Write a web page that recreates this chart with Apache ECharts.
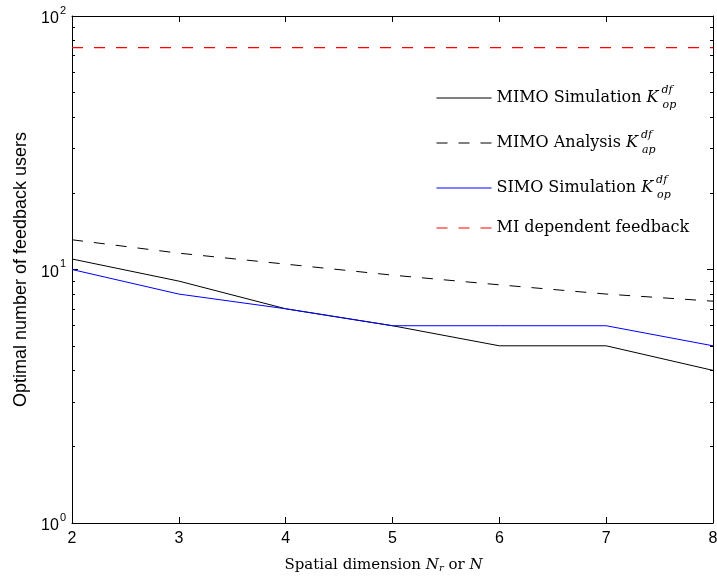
<!DOCTYPE html>
<html>
<head>
<meta charset="utf-8">
<script src="https://cdn.jsdelivr.net/npm/echarts@6/dist/echarts.min.js"></script>
<style>html,body{margin:0;padding:0;background:#fff}#c{width:717px;height:577px}</style>
</head>
<body>
<div id="c"></div>
<script>
const xValues = [2, 3, 4, 5, 6, 7, 8];
const mimoSim = [11, 9, 7, 6, 5, 5, 4];
const mimoAna = [13.1, 11.6, 10.5, 9.5, 8.7, 8.0, 7.5];
const simoSim = [10, 8, 7, 6, 6, 6, 5];
const miFeedback = [75, 75, 75, 75, 75, 75, 75];
const yMajor = [1, 10, 100];
const yMinor = [2, 3, 4, 5, 6, 7, 8, 9, 20, 30, 40, 50, 60, 70, 80, 90];
const seriesNames = ['MIMO Simulation', 'MIMO Analysis', 'SIMO Simulation', 'MI dependent feedback'];

const pairs = arr => xValues.map((x, i) => [x, arr[i]]);
const sansFont = 'Liberation Sans, Arial, sans-serif';
const serifFont = 'DejaVu Serif';

const chart = echarts.init(document.getElementById('c'), null, {renderer: 'canvas'});
const grid = {left: 72, right: 4, top: 16, bottom: 54, containLabel: false, outerBoundsMode: 'none'};

function yAxisDef(pos, ticks, len, withLabel, withLine) {
  return {
    type: 'log', logBase: 10, min: 1, max: 100, position: pos,
    axisLine: {show: withLine, lineStyle: {color: '#000', width: 1}},
    axisTick: {show: true, inside: true, length: len, customValues: ticks, lineStyle: {color: '#000', width: 1}},
    minorTick: {show: false},
    splitLine: {show: false},
    axisLabel: withLabel ? {
      show: true, customValues: yMajor, margin: 6,
      formatter: v => '{b|10}{s|' + Math.round(Math.log10(v)) + '}',
      rich: {
        b: {fontFamily: sansFont, fontSize: 16, color: '#000', verticalAlign: 'bottom', lineHeight: 22},
        s: {fontFamily: sansFont, fontSize: 11, color: '#000', verticalAlign: 'top', lineHeight: 22, padding: [0,0,0,1]}
      }
    } : {show: false},
    name: withLabel ? 'Optimal number of feedback users' : '',
    nameLocation: 'middle', nameGap: 42,
    nameTextStyle: {fontFamily: sansFont, fontSize: 18, color: '#000'}
  };
}

function xAxisDef(pos, withLabel) {
  return {
    type: 'value', min: 2, max: 8, interval: 1, position: pos,
    axisLine: {show: true, onZero: false, lineStyle: {color: '#000', width: 1}},
    axisTick: {show: true, inside: true, length: 6, lineStyle: {color: '#000', width: 1}},
    splitLine: {show: false},
    axisLabel: withLabel ? {show: true, fontFamily: sansFont, fontSize: 16, color: '#000', margin: 8} : {show: false},
    name: withLabel ? '{t|Spatial dimension }{i|N}{sb|r}{t| or }{i|N}' : '',
    nameLocation: 'middle', nameGap: 34,
    nameTextStyle: {
      padding: [0, 18, 0, 0],
      rich: {
        t: {fontFamily: serifFont, fontSize: 15, color: '#000'},
        i: {fontFamily: serifFont, fontSize: 15, fontStyle: 'italic', color: '#000'},
        sb: {fontFamily: serifFont, fontSize: 10, fontStyle: 'italic', color: '#000', verticalAlign: 'bottom', padding: [6,0,0,0]}
      }
    }
  };
}

const legendSuffix = ['{k|K}{sp|df}{sb|op}', '{k|K}{sp|df}{sb|ap}', '{k|K}{sp|df}{sb|op}', '{k| }'];

const option = {
  animation: false,
  backgroundColor: '#fff',
  grid: grid,
  xAxis: [xAxisDef('bottom', true), xAxisDef('top', false)],
  yAxis: [
    yAxisDef('left', yMajor, 6, true, true),
    yAxisDef('left', yMinor, 3, false, false),
    yAxisDef('right', yMajor, 6, false, true),
    yAxisDef('right', yMinor, 3, false, false)
  ],
  legend: {
    orient: 'vertical', left: 436, top: 85, padding: 0,
    itemWidth: 55, itemHeight: 14, itemGap: 19,
    data: seriesNames,
    itemStyle: {opacity: 0},
    lineStyle: {width: 1},
    formatter: name => '{t|' + name + ' }' + legendSuffix[seriesNames.indexOf(name)],
    textStyle: {
      rich: {
        t: {fontFamily: serifFont, fontSize: 16, color: '#000', lineHeight: 26},
        k: {fontFamily: serifFont, fontSize: 16, fontStyle: 'italic', color: '#000', lineHeight: 26},
        sp: {fontFamily: serifFont, fontSize: 11, fontStyle: 'italic', color: '#000', width: 0, verticalAlign: 'top', lineHeight: 26, padding: [0,0,0,3]},
        sb: {fontFamily: serifFont, fontSize: 11, fontStyle: 'italic', color: '#000', verticalAlign: 'bottom', lineHeight: 26, padding: [0,0,0,1]}
      }
    }
  },
  series: [
    {name: seriesNames[0], type: 'line', data: pairs(mimoSim), symbol: 'none', xAxisIndex: 0, yAxisIndex: 0,
     lineStyle: {color: '#000', width: 1}, itemStyle: {color: '#000'}},
    {name: seriesNames[1], type: 'line', data: pairs(mimoAna), symbol: 'none', xAxisIndex: 0, yAxisIndex: 0,
     lineStyle: {color: '#000', width: 1, type: [11, 11]}, itemStyle: {color: '#000'}},
    {name: seriesNames[2], type: 'line', data: pairs(simoSim), symbol: 'none', xAxisIndex: 0, yAxisIndex: 0,
     lineStyle: {color: '#0000ff', width: 1}, itemStyle: {color: '#0000ff'}},
    {name: seriesNames[3], type: 'line', data: pairs(miFeedback), symbol: 'none', xAxisIndex: 0, yAxisIndex: 0,
     lineStyle: {color: '#ff0000', width: 1.2, type: [11, 11]}, itemStyle: {color: '#ff0000'}}
  ]
};
chart.setOption(option);
</script>
</body>
</html>
